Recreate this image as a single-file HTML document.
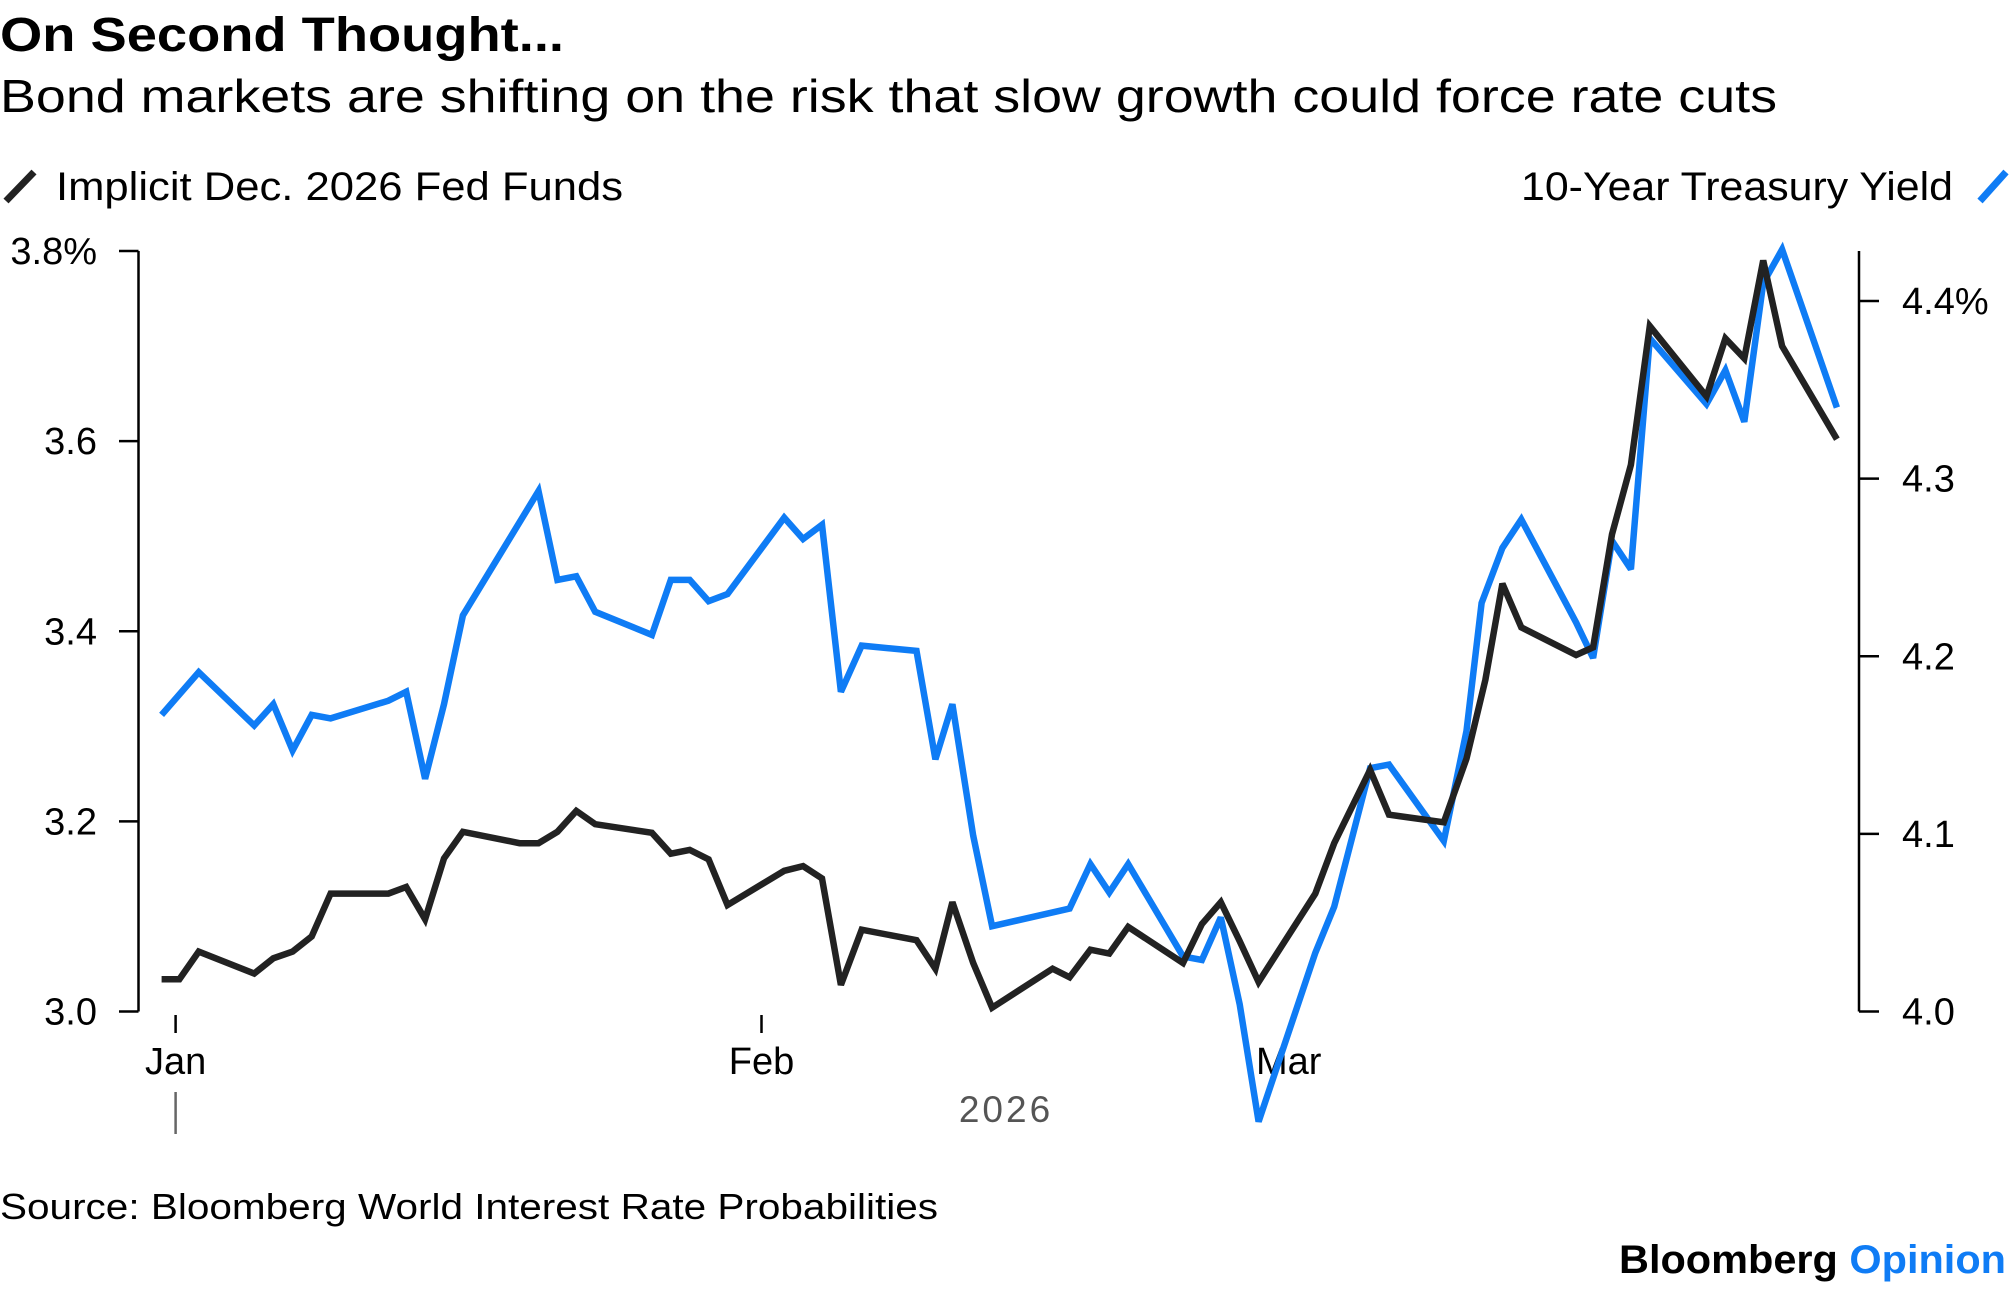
<!DOCTYPE html>
<html><head><meta charset="utf-8"><style>
html,body{margin:0;padding:0;background:#fff;}
svg{display:block;font-family:"Liberation Sans",Arial,sans-serif;}
</style></head><body>
<svg id="chart" width="2010" height="1290" viewBox="0 0 2010 1290">
<text x="0" y="51" font-size="48" font-weight="bold" textLength="564" lengthAdjust="spacingAndGlyphs" fill="#000">On Second Thought...</text>
<text x="0" y="112" font-size="46" textLength="1777" lengthAdjust="spacingAndGlyphs" fill="#000">Bond markets are shifting on the risk that slow growth could force rate cuts</text>
<line x1="6" y1="201" x2="34" y2="172" stroke="#222" stroke-width="7"/>
<text x="56" y="200" font-size="40" textLength="567" lengthAdjust="spacingAndGlyphs" fill="#000">Implicit Dec. 2026 Fed Funds</text>
<text x="1953" y="200" font-size="40" text-anchor="end" textLength="432" lengthAdjust="spacingAndGlyphs" fill="#000">10-Year Treasury Yield</text>
<line x1="1980" y1="201" x2="2006" y2="172" stroke="#0f7cf5" stroke-width="7"/>
<g id="axes"></g>
<g id="plot"></g>
<text x="0" y="1219" font-size="36" textLength="938" lengthAdjust="spacingAndGlyphs" fill="#000">Source: Bloomberg World Interest Rate Probabilities</text>
<text x="1619" y="1273" font-size="40" font-weight="bold" textLength="387" lengthAdjust="spacingAndGlyphs" fill="#000">Bloomberg <tspan fill="#0f7cf5">Opinion</tspan></text>
</svg>
<script>
// days since Jan 1, 2026
const fedDays = [-0.74,0.2,1.22,4.16,5.17,6.19,7.2,8.2,11.26,12.2,13.2,14.2,15.2,18.2,19.2,20.2,21.2,22.2,25.2,26.2,27.2,28.2,29.2,32.2,33.2,34.2,35.2,36.3,39.2,40.2,41.1,42.2,43.2,46.4,47.3,48.4,49.4,50.4,53.3,54.3,55.3,56.3,57.3,60.3,61.3,63.2,64.2,67.1,68.3,69.3,70.2,71.2,74.1,75.0,76.0,77.0,78.0,81.0,82.0,83.0,84.0,85.0,87.9];
const fedValues = [3.034,3.034,3.063,3.040,3.056,3.063,3.079,3.124,3.124,3.131,3.097,3.161,3.189,3.177,3.177,3.189,3.211,3.197,3.188,3.166,3.170,3.160,3.112,3.148,3.153,3.140,3.028,3.086,3.075,3.045,3.115,3.051,3.004,3.045,3.036,3.065,3.061,3.089,3.051,3.092,3.115,3.074,3.031,3.124,3.177,3.254,3.207,3.199,3.266,3.349,3.450,3.404,3.375,3.383,3.502,3.575,3.721,3.647,3.708,3.687,3.790,3.700,3.602];
const tsyDays = [-0.74,1.22,4.16,5.17,6.19,7.2,8.2,11.26,12.2,13.2,14.2,15.2,19.2,20.2,21.2,22.2,25.2,26.2,27.2,28.2,29.2,32.2,33.2,34.2,35.2,36.3,39.2,40.2,41.1,42.2,43.2,47.3,48.4,49.4,50.4,53.3,54.3,55.3,56.3,57.3,60.3,61.3,63.2,64.2,67.1,68.3,69.1,70.2,71.2,74.1,75.0,76.0,77.0,78.0,81.0,82.0,83.0,84.0,85.0,87.9];
const tsyValues = [4.167,4.191,4.161,4.173,4.147,4.167,4.165,4.175,4.180,4.131,4.173,4.223,4.293,4.243,4.245,4.225,4.212,4.243,4.243,4.231,4.235,4.278,4.266,4.274,4.180,4.206,4.203,4.142,4.173,4.099,4.048,4.058,4.083,4.067,4.083,4.031,4.029,4.053,4.004,3.938,4.033,4.059,4.137,4.139,4.096,4.158,4.230,4.261,4.277,4.219,4.199,4.265,4.249,4.379,4.342,4.361,4.332,4.410,4.429,4.340];
const leftTicks = [3.0,3.2,3.4,3.6,3.8];
const leftTickLabels = ["3.0","3.2","3.4","3.6","3.8%"];
const rightTicks = [4.0,4.1,4.2,4.3,4.4];
const rightTickLabels = ["4.0","4.1","4.2","4.3","4.4%"];
const monthDays = [0,31,59];
const monthLabels = ["Jan","Feb","Mar"];

const NS="http://www.w3.org/2000/svg";
const xDay = d => 175.6 + d*18.9;
const yLeft = v => 1011.5 - (v-3.0)*(1011.5-251)/0.8;
const yRight = v => 1011.5 - (v-4.0)*(1011.5-301)/0.4;
function mk(tag, attrs, parent){const e=document.createElementNS(NS,tag);for(const k in attrs)e.setAttribute(k,attrs[k]);parent.appendChild(e);return e;}
const axes=document.getElementById('axes'), plot=document.getElementById('plot');

let a=mk('line',{x1:138.5,y1:251,x2:138.5,y2:1011.5,stroke:'#000','stroke-width':2.5},axes);


leftTicks.forEach((v,i)=>{
  const t=mk('line',{x1:119,y1:yLeft(v),x2:138.5,y2:yLeft(v),stroke:'#000','stroke-width':2.5},axes);
  
  
  const l=mk('text',{x:97,y:yLeft(v)+13,'font-size':38,'text-anchor':'end',fill:'#000'},axes);
  l.textContent=leftTickLabels[i];
  
  
});
let r=mk('line',{x1:1859,y1:251,x2:1859,y2:1011.5,stroke:'#000','stroke-width':2.5},axes);


rightTicks.forEach((v,i)=>{
  const t=mk('line',{x1:1859,y1:yRight(v),x2:1879,y2:yRight(v),stroke:'#000','stroke-width':2.5},axes);
  
  
  const l=mk('text',{x:1902,y:yRight(v)+13,'font-size':38,fill:'#000'},axes);
  l.textContent=rightTickLabels[i];
  
  
});
monthDays.forEach((d,i)=>{
  if(i<2){
    const t=mk('line',{x1:xDay(d),y1:1015,x2:xDay(d),y2:1033,stroke:'#000','stroke-width':2.5},axes);
    
    
  }
  const l=mk('text',{x:xDay(d)+(i==2?-2:0),y:1074,'font-size':38,'text-anchor':'middle',fill:'#000'},axes);
  l.textContent=monthLabels[i];
  
  
});
let yt=mk('line',{x1:xDay(0),y1:1092,x2:xDay(0),y2:1134,stroke:'#666','stroke-width':2.5},axes);


let yl=mk('text',{x:1006,y:1122,'font-size':37,'text-anchor':'middle',fill:'#555','letter-spacing':3},axes);
yl.textContent='2026';



const tsyPts=tsyDays.map((d,i)=>xDay(d).toFixed(1)+','+yRight(tsyValues[i]).toFixed(1)).join(' ');
const bl=mk('polyline',{points:tsyPts,fill:'none',stroke:'#0f7cf5','stroke-width':6.5,'stroke-linejoin':'miter','stroke-miterlimit':3},plot);


const fedPts=fedDays.map((d,i)=>xDay(d).toFixed(1)+','+yLeft(fedValues[i]).toFixed(1)).join(' ');
const kl=mk('polyline',{points:fedPts,fill:'none',stroke:'#222','stroke-width':6.5,'stroke-linejoin':'miter','stroke-miterlimit':3},plot);


</script>
</body></html>
